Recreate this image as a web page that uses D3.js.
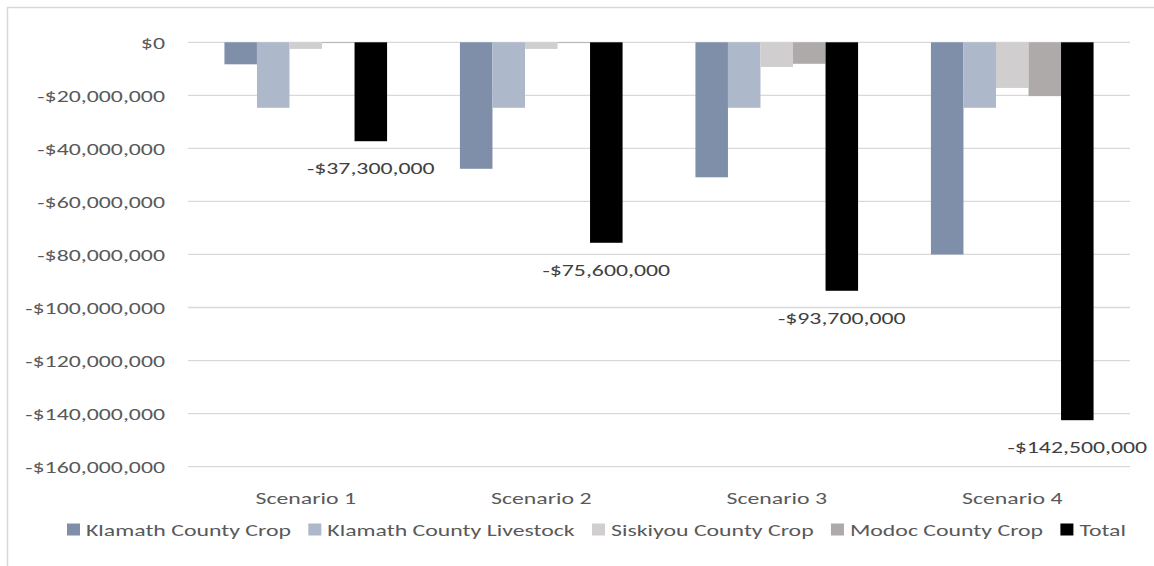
<!DOCTYPE html>
<html>
<head>
<meta charset="utf-8">
<script src="https://cdn.jsdelivr.net/npm/d3@7"></script>
<style>
  html, body { margin: 0; padding: 0; background: #ffffff; }
  svg { display: block; }
</style>
</head>
<body>
<svg id="chart" width="1154" height="566"></svg>
<script>
// ---- Data ----
const categories = ["Scenario 1", "Scenario 2", "Scenario 3", "Scenario 4"];
const seriesNames = ["Klamath County Crop", "Klamath County Livestock", "Siskiyou County Crop", "Modoc County Crop", "Total"];
const klamathCrop      = [-8300000, -47700000, -50900000, -80000000];
const klamathLivestock = [-24700000, -24700000, -24700000, -24700000];
const siskiyouCrop     = [-2500000, -2500000, -9300000, -17200000];
const modocCrop        = [-300000, -300000, -8100000, -20300000];
const total            = [-37300000, -75600000, -93700000, -142500000];
const yTickValues = [0, -20000000, -40000000, -60000000, -80000000, -100000000, -120000000, -140000000, -160000000];
const seriesColors = ["#7f8fa9", "#adb9ca", "#d0cece", "#aeaaaa", "#000000"];

const seriesValues = [klamathCrop, klamathLivestock, siskiyouCrop, modocCrop, total];

// ---- Layout ----
const FONT = "Carlito, Calibri, Lato, 'Open Sans', sans-serif";
const FS = 17;
const SX = 1.40; // horizontal text stretch
const plot = { left: 188, right: 1130, top: 42.3, bottom: 466.6 };
const legendSpan = [67, 1126];

const svg = d3.select("#chart");

// chart frame
svg.append("rect")
  .attr("x", 7.5).attr("y", 7.5)
  .attr("width", 2000).attr("height", 2000)
  .attr("fill", "none").attr("stroke", "#d9d9d9").attr("stroke-width", 1.5);

const y = d3.scaleLinear().domain([-160000000, 0]).range([plot.bottom, plot.top]);
const x0 = d3.scaleBand().domain(categories).range([plot.left, plot.right]).paddingInner(0).paddingOuter(0);
const x1 = d3.scaleBand().domain(seriesNames).range([0, x0.bandwidth()]).paddingInner(0).paddingOuter(1.12);
const color = d3.scaleOrdinal().domain(seriesNames).range(seriesColors);

const fmtMoney = v => (v < 0 ? "-$" : "$") + d3.format(",")(Math.abs(v));

// gridlines
svg.append("g")
  .selectAll("line")
  .data(yTickValues)
  .join("line")
  .attr("x1", plot.left).attr("x2", plot.right)
  .attr("y1", d => y(d)).attr("y2", d => y(d))
  .attr("stroke", "#d9d9d9").attr("stroke-width", 1.3);

// y axis labels
const yAxis = svg.append("g")
  .attr("transform", `translate(${plot.left},0)`)
  .call(d3.axisLeft(y).tickValues(yTickValues).tickSize(0).tickFormat(fmtMoney));
yAxis.select(".domain").remove();
yAxis.selectAll("text")
  .attr("x", 0)
  .attr("dy", "0.35em")
  .attr("transform", `translate(-23,0) scale(${SX},1)`)
  .attr("fill", "#595959")
  .style("font-family", FONT)
  .style("font-size", FS + "px")
  .attr("text-anchor", "end");

// bars
const rows = categories.map((c, i) => ({ cat: c, vals: seriesNames.map((s, j) => ({ s, v: seriesValues[j][i] })) }));

const groups = svg.append("g")
  .selectAll("g")
  .data(rows)
  .join("g")
  .attr("transform", d => `translate(${x0(d.cat)},0)`);

groups.selectAll("rect")
  .data(d => d.vals)
  .join("rect")
  .attr("x", d => x1(d.s))
  .attr("width", x1.bandwidth())
  .attr("y", d => y(0))
  .attr("height", d => y(d.v) - y(0))
  .attr("fill", d => color(d.s));

// total data labels
svg.append("g")
  .selectAll("text")
  .data(categories.map((c, i) => ({ cat: c, v: total[i] })))
  .join("text")
  .attr("transform", d => `translate(${x0(d.cat) + x1("Total") + x1.bandwidth() / 2},${y(d.v) + 27}) scale(${SX},1)`)
  .attr("dy", "0.35em")
  .attr("text-anchor", "middle")
  .attr("fill", "#404040")
  .style("font-family", FONT)
  .style("font-size", FS + "px")
  .text(d => fmtMoney(d.v));

// x axis labels
const xAxis = svg.append("g")
  .attr("transform", `translate(0,${plot.bottom})`)
  .call(d3.axisBottom(x0).tickSize(0));
xAxis.select(".domain").remove();
xAxis.selectAll("text")
  .attr("y", 0)
  .attr("dy", "0.35em")
  .attr("transform", `translate(0,31.5) scale(${SX},1)`)
  .attr("fill", "#595959")
  .style("font-family", FONT)
  .style("font-size", FS + "px");

// legend: items spread to fill the legend span
const legend = svg.append("g").attr("transform", "translate(0,530)");
const items = seriesNames.map(s => {
  const r = legend.append("rect")
    .attr("y", -6.5)
    .attr("width", 13).attr("height", 12)
    .attr("fill", color(s));
  const t = legend.append("text")
    .attr("dy", "0.35em")
    .attr("fill", "#595959")
    .style("font-family", FONT)
    .style("font-size", FS + "px")
    .text(s);
  return { r, t, w: 19 + t.node().getComputedTextLength() * SX };
});
const usedW = d3.sum(items, d => d.w);
const gap = (legendSpan[1] - legendSpan[0] - usedW) / (items.length - 1);
let lx = legendSpan[0];
items.forEach(d => {
  d.r.attr("x", lx);
  d.t.attr("transform", `translate(${lx + 19},0) scale(${SX},1)`);
  lx += d.w + gap;
});
</script>
</body>
</html>
